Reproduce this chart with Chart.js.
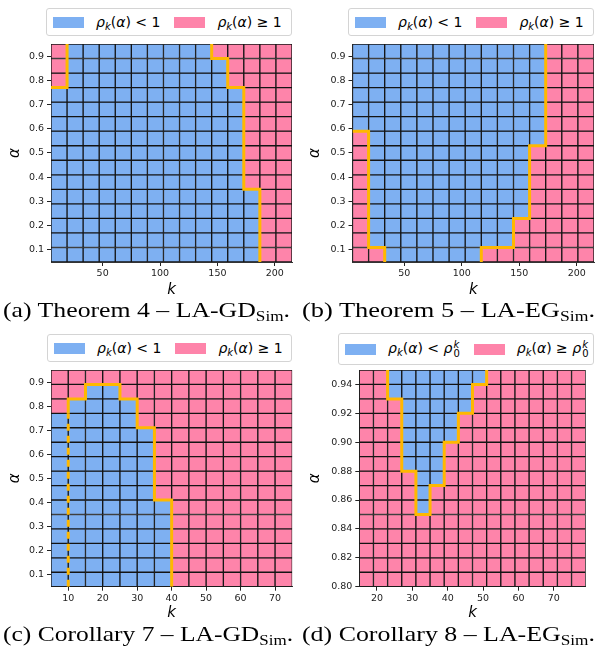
<!DOCTYPE html>
<html lang="en">
<head>
<meta charset="UTF-8">
<title>Stability regions</title>
<script src="https://cdn.jsdelivr.net/npm/chart.js"></script>
<style>
  body { margin: 0; background: #fff; width: 603px; height: 651px; position: relative; overflow: hidden; font-family: "DejaVu Sans", sans-serif; }
  canvas { position: absolute; }
  .legend { position: absolute; display: flex; align-items: center; background: #fff; border: 1px solid #d4d4d4;
            border-radius: 3px; box-sizing: border-box; padding: 0 6px; font-size: 14px; color: #000; white-space: nowrap; }
  .legend .sw { display: inline-block; width: 31px; height: 11px; margin-right: 12px; flex: none; }
  .legend .item { display: flex; align-items: center; margin-right: 14px; }
  .legend .item:last-child { margin-right: 0; }
  .legend sub { font-size: 10px; vertical-align: -3px; line-height: 0; }
  .legend .ss { display: inline-flex; flex-direction: column; font-size: 10px; line-height: 9px; vertical-align: 5px; margin-left: 1px; }
  .caption { position: absolute; font-family: "Liberation Serif", serif; font-size: 21px; white-space: nowrap; color: #000; transform-origin: 0 0; }
  .caption sub { font-size: 14px; vertical-align: -4px; line-height: 0; }
</style>
</head>
<body>
<canvas id="chartA" width="300" height="300" style="left:0;top:0"></canvas>
<canvas id="chartB" width="303" height="300" style="left:300px;top:0"></canvas>
<canvas id="chartC" width="300" height="305" style="left:0;top:320px"></canvas>
<canvas id="chartD" width="303" height="305" style="left:300px;top:320px"></canvas>

<script>
// ---- data -------------------------------------------------------------
// cell edges in k and alpha, grids listed from the top row (largest alpha) down
// 1 = rho >= threshold (pink), 0 = rho < threshold (blue)
const kEdgesA = [5, 19, 33, 47, 61, 75, 89, 103, 117, 131, 145, 159, 173, 187, 201, 215];
const alphaEdgesA = [0.05, 0.11, 0.17, 0.23, 0.29, 0.35, 0.41, 0.47, 0.53, 0.59, 0.65, 0.71, 0.77, 0.83, 0.89, 0.95];
const gridA = [
  [1,0,0,0,0,0,0,0,0,0,1,1,1,1,1],
  [1,0,0,0,0,0,0,0,0,0,0,1,1,1,1],
  [1,0,0,0,0,0,0,0,0,0,0,1,1,1,1],
  [0,0,0,0,0,0,0,0,0,0,0,0,1,1,1],
  [0,0,0,0,0,0,0,0,0,0,0,0,1,1,1],
  [0,0,0,0,0,0,0,0,0,0,0,0,1,1,1],
  [0,0,0,0,0,0,0,0,0,0,0,0,1,1,1],
  [0,0,0,0,0,0,0,0,0,0,0,0,1,1,1],
  [0,0,0,0,0,0,0,0,0,0,0,0,1,1,1],
  [0,0,0,0,0,0,0,0,0,0,0,0,1,1,1],
  [0,0,0,0,0,0,0,0,0,0,0,0,0,1,1],
  [0,0,0,0,0,0,0,0,0,0,0,0,0,1,1],
  [0,0,0,0,0,0,0,0,0,0,0,0,0,1,1],
  [0,0,0,0,0,0,0,0,0,0,0,0,0,1,1],
  [0,0,0,0,0,0,0,0,0,0,0,0,0,1,1]
];
const boundaryA = [
  [[5, 0.77], [19, 0.77], [19, 0.95]],
  [[145, 0.95], [145, 0.89], [159, 0.89], [159, 0.77], [173, 0.77], [173, 0.35], [187, 0.35], [187, 0.05]]
];

const kEdgesB = kEdgesA;
const alphaEdgesB = alphaEdgesA;
const gridB = [
  [0,0,0,0,0,0,0,0,0,0,0,0,1,1,1],
  [0,0,0,0,0,0,0,0,0,0,0,0,1,1,1],
  [0,0,0,0,0,0,0,0,0,0,0,0,1,1,1],
  [0,0,0,0,0,0,0,0,0,0,0,0,1,1,1],
  [0,0,0,0,0,0,0,0,0,0,0,0,1,1,1],
  [0,0,0,0,0,0,0,0,0,0,0,0,1,1,1],
  [1,0,0,0,0,0,0,0,0,0,0,0,1,1,1],
  [1,0,0,0,0,0,0,0,0,0,0,1,1,1,1],
  [1,0,0,0,0,0,0,0,0,0,0,1,1,1,1],
  [1,0,0,0,0,0,0,0,0,0,0,1,1,1,1],
  [1,0,0,0,0,0,0,0,0,0,0,1,1,1,1],
  [1,0,0,0,0,0,0,0,0,0,0,1,1,1,1],
  [1,0,0,0,0,0,0,0,0,0,1,1,1,1,1],
  [1,0,0,0,0,0,0,0,0,0,1,1,1,1,1],
  [1,1,0,0,0,0,0,0,1,1,1,1,1,1,1]
];
const boundaryB = [
  [[5, 0.59], [19, 0.59], [19, 0.11], [33, 0.11], [33, 0.05]],
  [[117, 0.05], [117, 0.11], [145, 0.11], [145, 0.23], [159, 0.23], [159, 0.53], [173, 0.53], [173, 0.95]]
];

const kEdgesC = [5, 10, 15, 20, 25, 30, 35, 40, 45, 50, 55, 60, 65, 70, 75];
const alphaEdgesC = alphaEdgesA;
const gridC = [
  [1,1,1,1,1,1,1,1,1,1,1,1,1,1],
  [1,1,0,0,1,1,1,1,1,1,1,1,1,1],
  [1,0,0,0,0,1,1,1,1,1,1,1,1,1],
  [0,0,0,0,0,1,1,1,1,1,1,1,1,1],
  [0,0,0,0,0,0,1,1,1,1,1,1,1,1],
  [0,0,0,0,0,0,1,1,1,1,1,1,1,1],
  [0,0,0,0,0,0,1,1,1,1,1,1,1,1],
  [0,0,0,0,0,0,1,1,1,1,1,1,1,1],
  [0,0,0,0,0,0,1,1,1,1,1,1,1,1],
  [0,0,0,0,0,0,0,1,1,1,1,1,1,1],
  [0,0,0,0,0,0,0,1,1,1,1,1,1,1],
  [0,0,0,0,0,0,0,1,1,1,1,1,1,1],
  [0,0,0,0,0,0,0,1,1,1,1,1,1,1],
  [0,0,0,0,0,0,0,1,1,1,1,1,1,1],
  [0,0,0,0,0,0,0,1,1,1,1,1,1,1]
];
const boundaryC = [
  [[10, 0.77], [10, 0.83], [15, 0.83], [15, 0.89], [25, 0.89], [25, 0.83], [30, 0.83], [30, 0.71],
   [35, 0.71], [35, 0.41], [40, 0.41], [40, 0.05]]
];
const dashedC = [[10, 0.05], [10, 0.77]];

const kEdgesD = [15, 19, 23, 27, 31, 35, 39, 43, 47, 51, 55, 59, 63, 67, 71, 75, 79];
const alphaEdgesD = [0.80, 0.81, 0.82, 0.83, 0.84, 0.85, 0.86, 0.87, 0.88, 0.89, 0.90, 0.91, 0.92, 0.93, 0.94, 0.95];
const gridD = [
  [1,1,0,0,0,0,0,0,0,1,1,1,1,1,1,1],
  [1,1,0,0,0,0,0,0,1,1,1,1,1,1,1,1],
  [1,1,1,0,0,0,0,0,1,1,1,1,1,1,1,1],
  [1,1,1,0,0,0,0,1,1,1,1,1,1,1,1,1],
  [1,1,1,0,0,0,0,1,1,1,1,1,1,1,1,1],
  [1,1,1,0,0,0,1,1,1,1,1,1,1,1,1,1],
  [1,1,1,0,0,0,1,1,1,1,1,1,1,1,1,1],
  [1,1,1,1,0,0,1,1,1,1,1,1,1,1,1,1],
  [1,1,1,1,0,1,1,1,1,1,1,1,1,1,1,1],
  [1,1,1,1,0,1,1,1,1,1,1,1,1,1,1,1],
  [1,1,1,1,1,1,1,1,1,1,1,1,1,1,1,1],
  [1,1,1,1,1,1,1,1,1,1,1,1,1,1,1,1],
  [1,1,1,1,1,1,1,1,1,1,1,1,1,1,1,1],
  [1,1,1,1,1,1,1,1,1,1,1,1,1,1,1,1],
  [1,1,1,1,1,1,1,1,1,1,1,1,1,1,1,1]
];
const boundaryD = [
  [[23, 0.95], [23, 0.93], [27, 0.93], [27, 0.88], [31, 0.88], [31, 0.85], [35, 0.85], [35, 0.87],
   [39, 0.87], [39, 0.90], [43, 0.90], [43, 0.92], [47, 0.92], [47, 0.94], [51, 0.94], [51, 0.95]]
];

const kTicksAB = [50, 100, 150, 200];
const kTicksC = [10, 20, 30, 40, 50, 60, 70];
const kTicksD = [20, 30, 40, 50, 60, 70];
const alphaTicksABC = [0.1, 0.2, 0.3, 0.4, 0.5, 0.6, 0.7, 0.8, 0.9];
const alphaTicksD = [0.80, 0.82, 0.84, 0.86, 0.88, 0.90, 0.92, 0.94];

const legendOne = ['<i>ρ</i><sub><i>k</i></sub>(<i>α</i>) &lt; 1', '<i>ρ</i><sub><i>k</i></sub>(<i>α</i>) ≥ 1'];
const legendRho0 = ['<i>ρ</i><sub><i>k</i></sub>(<i>α</i>) &lt; <i>ρ</i><span class="ss"><i>k</i><span>0</span></span>',
                    '<i>ρ</i><sub><i>k</i></sub>(<i>α</i>) ≥ <i>ρ</i><span class="ss"><i>k</i><span>0</span></span>'];
const captions = [
  '(a) Theorem 4 – LA-GD<sub>Sim</sub>.', '(b) Theorem 5 – LA-EG<sub>Sim</sub>.',
  '(c) Corollary 7 – LA-GD<sub>Sim</sub>.', '(d) Corollary 8 – LA-EG<sub>Sim</sub>.'
];

// ---- style ------------------------------------------------------------
const BLUE = '#7EB0F2';
const PINK = '#FE84AA';
const GOLD = '#FFB800';
const EDGE = '#141414';
const FONT = 'DejaVu Sans';

function cellDatasets(kEdges, aEdges, grid) {
  const n = aEdges.length - 1;
  return grid.map((row, r) => ({
    type: 'bar',
    data: row.map((v, c) => ({ x: (kEdges[c] + kEdges[c + 1]) / 2, y: [aEdges[n - 1 - r], aEdges[n - r]] })),
    backgroundColor: row.map(v => v ? PINK : BLUE),
    borderColor: EDGE,
    borderWidth: 1,
    borderSkipped: false,
    barPercentage: 1,
    categoryPercentage: 1,
    grouped: false,
    order: 1
  }));
}

function pathDataset(path, dashed) {
  return {
    type: 'line',
    data: path.map(p => ({ x: p[0], y: p[1] })),
    borderColor: GOLD,
    borderWidth: 3,
    borderDash: dashed ? [7, 5] : [],
    borderJoinStyle: 'miter',
    pointRadius: 0,
    tension: 0,
    fill: false,
    order: 0
  };
}

function makeChart(id, p) {
  const datasets = cellDatasets(p.kEdges, p.aEdges, p.grid)
    .concat(p.paths.map(path => pathDataset(path, false)))
    .concat((p.dashed || []).map(path => pathDataset(path, true)));
  return new Chart(document.getElementById(id), {
    type: 'bar',
    data: { datasets },
    options: {
      responsive: false,
      animation: false,
      events: [],
      layout: { padding: p.pad },
      plugins: { legend: { display: false }, tooltip: { enabled: false } },
      scales: {
        x: {
          type: 'linear',
          offset: false,
          min: p.kEdges[0],
          max: p.kEdges[p.kEdges.length - 1],
          afterBuildTicks: s => { s.ticks = p.kTicks.map(v => ({ value: v })); },
          afterFit: s => { s.height = p.xH; },
          grid: { drawOnChartArea: false, offset: false, tickLength: 4, color: '#222' },
          border: { display: true, color: '#333', width: 1 },
          ticks: { autoSkip: false, maxRotation: 0, padding: 2, color: '#222', font: { family: FONT, size: 9.5 },
                   callback: v => String(v) },
          title: { display: true, text: 'k', color: '#000', padding: { top: 0, bottom: p.kTitlePad },
                   font: { family: FONT, size: 15, style: 'italic' } }
        },
        y: {
          type: 'linear',
          beginAtZero: false,
          min: p.aEdges[0],
          max: p.aEdges[p.aEdges.length - 1],
          afterBuildTicks: s => { s.ticks = p.aTicks.map(v => ({ value: v })); },
          afterFit: s => { s.width = p.yW; },
          grid: { drawOnChartArea: false, tickLength: 4, color: '#222' },
          border: { display: true, color: '#333', width: 1 },
          ticks: { autoSkip: false, padding: 3, color: '#222', font: { family: FONT, size: 9.5 },
                   callback: v => v.toFixed(p.aDigits) },
          title: { display: true, text: 'α', color: '#000', padding: { top: 6, bottom: 0 },
                   font: { family: FONT, size: 15, style: 'italic' } }
        }
      }
    }
  });
}

makeChart('chartA', { kEdges: kEdgesA, aEdges: alphaEdgesA, grid: gridA, paths: boundaryA,
  kTicks: kTicksAB, aTicks: alphaTicksABC, aDigits: 1,
  pad: { left: 0, top: 44, right: 8, bottom: 0 }, yW: 51, xH: 38, kTitlePad: 1 });
makeChart('chartB', { kEdges: kEdgesB, aEdges: alphaEdgesB, grid: gridB, paths: boundaryB,
  kTicks: kTicksAB, aTicks: alphaTicksABC, aDigits: 1,
  pad: { left: 0, top: 44, right: 9, bottom: 0 }, yW: 52.5, xH: 38, kTitlePad: 1 });
makeChart('chartC', { kEdges: kEdgesC, aEdges: alphaEdgesC, grid: gridC, paths: boundaryC, dashed: [dashedC],
  kTicks: kTicksC, aTicks: alphaTicksABC, aDigits: 1,
  pad: { left: 0, top: 50, right: 7.7, bottom: 0 }, yW: 51, xH: 38.3, kTitlePad: 3 });
makeChart('chartD', { kEdges: kEdgesD, aEdges: alphaEdgesD, grid: gridD, paths: boundaryD,
  kTicks: kTicksD, aTicks: alphaTicksD, aDigits: 2,
  pad: { left: 0, top: 50, right: 17.3, bottom: 0 }, yW: 59.3, xH: 38.3, kTitlePad: 3 });

// ---- legends and captions (html text) ---------------------------------
function makeLegend(box, labels) {
  const div = document.createElement('div');
  div.className = 'legend';
  Object.assign(div.style, { left: box[0] + 'px', top: box[1] + 'px', width: box[2] + 'px', height: box[3] + 'px' });
  labels.forEach((html, i) => {
    const item = document.createElement('span');
    item.className = 'item';
    item.innerHTML = '<span class="sw" style="background:' + (i ? PINK : BLUE) + '"></span><span>' + html + '</span>';
    div.appendChild(item);
  });
  document.body.appendChild(div);
}
makeLegend([46, 8, 246, 28], legendOne);
makeLegend([348, 8, 246, 28], legendOne);
makeLegend([47, 334, 245, 28], legendOne);
makeLegend([338, 333, 256, 32], legendRho0);

const capBoxes = [[3, 298, 287], [302, 298, 293], [3, 622, 290], [302, 622, 293]];
captions.forEach((html, i) => {
  const d = document.createElement('div');
  d.className = 'caption';
  d.innerHTML = html;
  d.style.left = capBoxes[i][0] + 'px';
  d.style.top = capBoxes[i][1] + 'px';
  document.body.appendChild(d);
  const w = d.getBoundingClientRect().width;
  d.style.transform = 'scaleX(' + (capBoxes[i][2] / w) + ')';
});
</script>
</body>
</html>
